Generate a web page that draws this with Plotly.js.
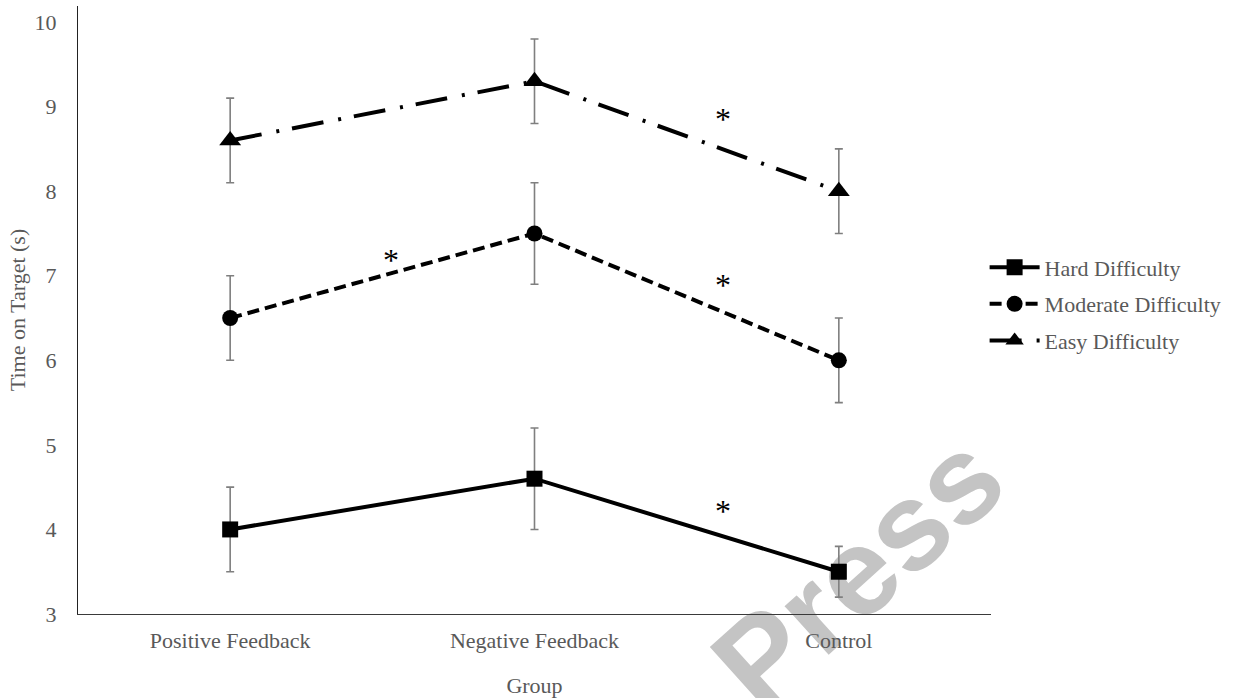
<!DOCTYPE html>
<html>
<head>
<meta charset="utf-8">
<script src="https://cdn.plot.ly/plotly-3.0.1.min.js"></script>
<style>
  html, body { margin: 0; padding: 0; background: #fff; }
  #chart { width: 1234px; height: 698px; }
</style>
</head>
<body>
<div id="chart"></div>
<script>
// Groups on the x axis
const groups = ['Positive Feedback', 'Negative Feedback', 'Control'];

// Mean time on target (s) per difficulty level
const hardMean = [4.0, 4.6, 3.5];
const moderateMean = [6.5, 7.5, 6.0];
const easyMean = [8.6, 9.3, 8.0];

// Error bar half-lengths
const hardErr = [0.5, 0.6, 0.3];
const moderateErr = [0.5, 0.6, 0.5];
const easyErr = [0.5, 0.5, 0.5];

// Significance markers (category index, time value)
const sigX = [0.53, 1.62, 1.62, 1.62];
const sigY = [7.19, 8.85, 6.89, 4.22];
const sigText = ['*', '*', '*', '*'];

const yTicks = [3, 4, 5, 6, 7, 8, 9, 10];

const serif = 'Liberation Serif, Times New Roman, serif';
const labelGray = '#595959';

function series(name, values, errs, symbol, size, dash, group) {
  return {
    type: 'scatter',
    mode: 'lines+markers',
    name: name,
    legendgroup: group,
    x: groups,
    y: values,
    line: { color: '#000', width: 4, dash: dash },
    marker: { symbol: symbol, size: size, color: '#000' },
    error_y: { type: 'data', array: errs, visible: true, color: '#7f7f7f', thickness: 1.6, width: 4 },
    cliponaxis: false
  };
}

const traces = [
  series('Hard Difficulty', hardMean, hardErr, 'square', 16, 'solid', 'a'),
  series('Moderate Difficulty', moderateMean, moderateErr, 'circle', 16, '12px,6px', 'b'),
  series('Easy Difficulty', easyMean, easyErr, 'triangle-up', 19, '32px,15px,3px,13px', 'c')
];

const annotations = sigX.map((x, i) => ({
  x: x, y: sigY[i], xref: 'x', yref: 'y',
  text: sigText[i], showarrow: false,
  font: { family: serif, size: 32, color: '#000' }
}));

// Publisher watermark
annotations.push({
  x: 0.854, y: 0.07, xref: 'paper', yref: 'paper',
  text: '<b>Press</b>', showarrow: false, textangle: -42,
  font: { family: 'Liberation Sans, Arial, sans-serif', size: 124, color: '#c4c4c4' },
  xanchor: 'center', yanchor: 'middle'
});

const layout = {
  width: 1234,
  height: 698,
  margin: { l: 78, r: 243, t: 6, b: 84 },
  paper_bgcolor: '#fff',
  plot_bgcolor: '#fff',
  font: { family: serif, size: 22, color: labelGray },
  showlegend: true,
  legend: {
    x: 0.993, xanchor: 'left', y: 0.51, yanchor: 'middle',
    font: { family: serif, size: 22, color: labelGray },
    itemwidth: 50,
    traceorder: 'grouped',
    tracegroupgap: 5,
    bgcolor: 'rgba(0,0,0,0)'
  },
  xaxis: {
    type: 'category',
    range: [-0.5, 2.5],
    showline: true, linecolor: '#3a3a3a', linewidth: 1,
    showgrid: false, zeroline: false, ticks: '',
    ticklabelstandoff: 7,
    tickfont: { family: serif, size: 22, color: labelGray },
    title: { text: 'Group', font: { family: serif, size: 22, color: labelGray }, standoff: 26 }
  },
  yaxis: {
    range: [3, 10.19],
    tickvals: yTicks,
    ticktext: yTicks.map(String),
    showline: true, linecolor: '#222', linewidth: 1,
    showgrid: false, zeroline: false, ticks: '',
    ticklabelstandoff: 16,
    tickfont: { family: serif, size: 22, color: labelGray },
    title: { text: 'Time on Target (s)', font: { family: serif, size: 22, color: labelGray }, standoff: 2 }
  },
  annotations: annotations
};

const gd = document.getElementById('chart');
Plotly.newPlot(gd, traces, layout, { displayModeBar: false, staticPlot: true }).then(() => {
  // Keep the watermark underneath the axes, labels and data
  const marks = gd.querySelectorAll('.annotation');
  const wm = marks[marks.length - 1];
  const below = gd.querySelector('.main-svg .layer-below');
  if (wm && below) below.appendChild(wm);
});
</script>
</body>
</html>
